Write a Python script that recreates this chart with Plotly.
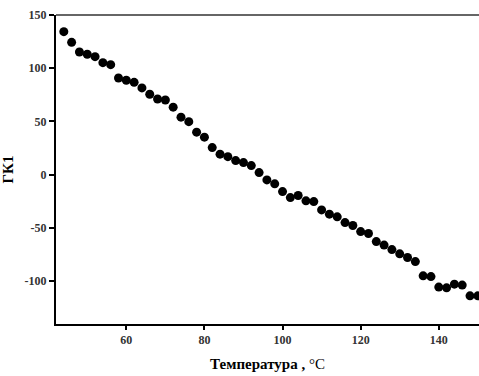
import plotly.graph_objects as go

temperature = [44, 46, 48, 50, 52, 54, 56, 58, 60, 62, 64, 66, 68, 70, 72, 74, 76, 78,
               80, 82, 84, 86, 88, 90, 92, 94, 96, 98, 100, 102, 104, 106, 108, 110,
               112, 114, 116, 118, 120, 122, 124, 126, 128, 130, 132, 134, 136, 138,
               140, 142, 144, 146, 148, 150]
gk1 = [134.3, 124.3, 115.2, 113.1, 110.8, 105.2, 103.3, 90.8, 88.6, 86.7, 81.4, 75.5,
       71.0, 70.1, 63.3, 53.9, 49.7, 39.8, 35.1, 25.3, 19.1, 16.8, 13.1, 11.2, 8.4, 1.8,
       -5.1, -8.8, -16.1, -21.7, -19.8, -24.8, -25.5, -33.3, -37.3, -39.8, -45.2, -48.0,
       -53.7, -55.5, -63.1, -66.4, -70.6, -74.6, -78.1, -81.9, -95.3, -96.0, -105.9,
       -106.6, -103.1, -104.0, -114.1, -114.1]

x_ticks = [60, 80, 100, 120, 140]
y_ticks = [150, 100, 50, 0, -50, -100]
y_tick_text = ["150", "100", "50", "0", "-50", "-100"]

font_family = "Liberation Serif"

fig = go.Figure()
fig.add_trace(go.Scatter(
    x=temperature, y=gk1, mode="markers",
    marker=dict(color="black", size=9, line=dict(width=0)),
    showlegend=False, cliponaxis=True,
))

fig.update_layout(
    width=479, height=376,
    margin=dict(l=56, r=0, t=15, b=52),
    paper_bgcolor="white", plot_bgcolor="white",
    font=dict(family=font_family, color="#333"),
    xaxis=dict(
        range=[42, 150.3], tickvals=x_ticks, ticktext=[str(v) for v in x_ticks],
        showgrid=False, zeroline=False,
        showline=True, linecolor="black", linewidth=2,
        ticks="outside", ticklen=4, tickwidth=1.5, tickcolor="black",
        tickfont=dict(family=font_family, size=12, color="#333", weight="bold"),
        title=dict(text="<b>Температура ,</b> °C", standoff=12,
                   font=dict(family=font_family, size=15, color="black")),
    ),
    yaxis=dict(
        range=[-140.6, 150], tickvals=y_ticks, ticktext=y_tick_text,
        showgrid=False, zeroline=False,
        showline=True, linecolor="black", linewidth=2,
        ticks="outside", ticklen=5, tickwidth=1.5, tickcolor="black",
        tickfont=dict(family=font_family, size=12, color="#333", weight="bold"),
        title=dict(text="<b>ГК1</b>", standoff=7,
                   font=dict(family=font_family, size=15, color="black")),
    ),
    shapes=[dict(type="line", xref="paper", yref="paper", x0=0, x1=1, y0=1, y1=1,
                 line=dict(color="#666", width=2))],
)

fig.write_html("out.html", config={"displayModeBar": False},
               post_script="document.body.style.margin='0';document.body.style.overflow='hidden';")
